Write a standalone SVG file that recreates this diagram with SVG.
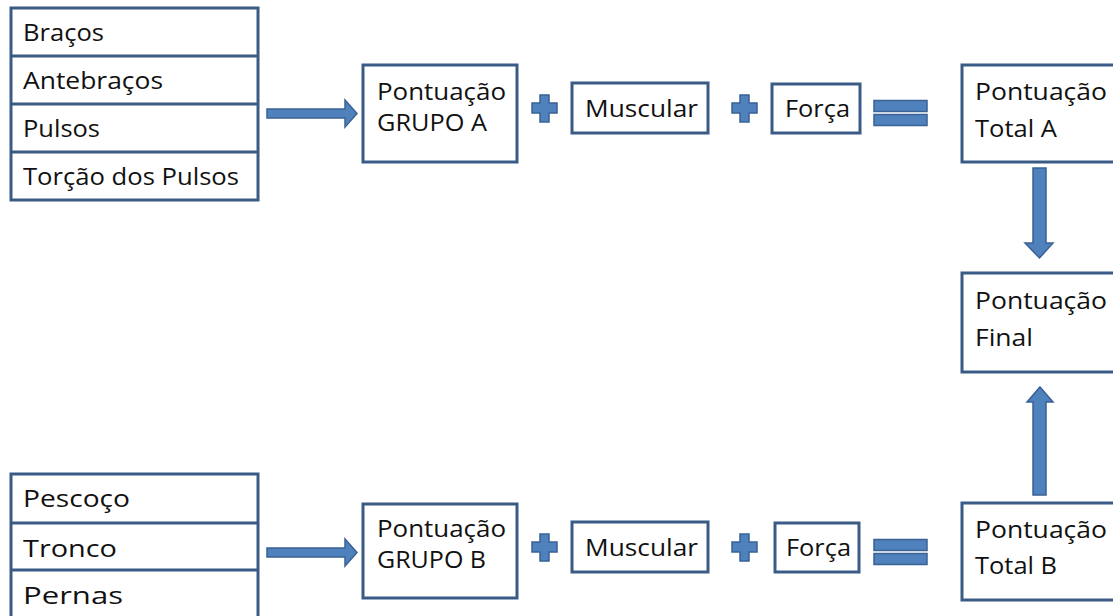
<svg xmlns="http://www.w3.org/2000/svg" width="1113" height="616" viewBox="0 0 1113 616">
<style>
.box{fill:#fff;stroke:#3a5b86;stroke-width:3}
.line{stroke:#3a5b86;stroke-width:3}
.conn{fill:#4f81bd;stroke:#3a6294;stroke-width:1.5}
text{font-family:"Open Sans","Liberation Sans",sans-serif;font-size:23.5px;fill:#111}
</style>
<rect width="1113" height="616" fill="#fff"/>
<g id="listA">
<rect class="box" x="11" y="8" width="247" height="192"/>
<line class="line" x1="11" y1="56" x2="258" y2="56"/>
<line class="line" x1="11" y1="104" x2="258" y2="104"/>
<line class="line" x1="11" y1="152" x2="258" y2="152"/>
<text x="23" y="41" textLength="81" lengthAdjust="spacingAndGlyphs">Braços</text>
<text x="23" y="89" textLength="140" lengthAdjust="spacingAndGlyphs">Antebraços</text>
<text x="23" y="137" textLength="77" lengthAdjust="spacingAndGlyphs">Pulsos</text>
<text x="23" y="185" textLength="216" lengthAdjust="spacingAndGlyphs">Torção dos Pulsos</text>
</g>
<g id="grupoA">
<rect class="box" x="363" y="65" width="154" height="97"/>
<text x="377" y="100" textLength="129" lengthAdjust="spacingAndGlyphs">Pontuação</text>
<text x="377" y="131" textLength="110" lengthAdjust="spacingAndGlyphs">GRUPO A</text>
</g>
<g id="muscularA">
<rect class="box" x="572" y="83" width="136" height="50"/>
<text x="585" y="117" textLength="113" lengthAdjust="spacingAndGlyphs">Muscular</text>
</g>
<g id="forcaA">
<rect class="box" x="772" y="84" width="88" height="49"/>
<text x="785" y="117" textLength="65" lengthAdjust="spacingAndGlyphs">Força</text>
</g>
<g id="totalA">
<rect class="box" x="962" y="65" width="170" height="97"/>
<text x="975" y="100" textLength="132" lengthAdjust="spacingAndGlyphs">Pontuação</text>
<text x="975" y="137" textLength="82" lengthAdjust="spacingAndGlyphs">Total A</text>
</g>
<g id="final">
<rect class="box" x="962" y="273" width="170" height="99"/>
<text x="975" y="309" textLength="132" lengthAdjust="spacingAndGlyphs">Pontuação</text>
<text x="975" y="346" textLength="58" lengthAdjust="spacingAndGlyphs">Final</text>
</g>
<g id="listB">
<rect class="box" x="11" y="474" width="247" height="150"/>
<line class="line" x1="11" y1="523" x2="258" y2="523"/>
<line class="line" x1="11" y1="570" x2="258" y2="570"/>
<text x="23" y="507" textLength="107" lengthAdjust="spacingAndGlyphs">Pescoço</text>
<text x="23" y="557" textLength="94" lengthAdjust="spacingAndGlyphs">Tronco</text>
<text x="23" y="604" textLength="100" lengthAdjust="spacingAndGlyphs">Pernas</text>
</g>
<g id="grupoB">
<rect class="box" x="363" y="504" width="154" height="94"/>
<text x="377" y="537" textLength="129" lengthAdjust="spacingAndGlyphs">Pontuação</text>
<text x="377" y="568" textLength="109" lengthAdjust="spacingAndGlyphs">GRUPO B</text>
</g>
<g id="muscularB">
<rect class="box" x="572" y="522" width="136" height="50"/>
<text x="585" y="556" textLength="113" lengthAdjust="spacingAndGlyphs">Muscular</text>
</g>
<g id="forcaB">
<rect class="box" x="775" y="523" width="84" height="49"/>
<text x="786" y="556" textLength="65" lengthAdjust="spacingAndGlyphs">Força</text>
</g>
<g id="totalB">
<rect class="box" x="962" y="503" width="170" height="97"/>
<text x="975" y="538" textLength="132" lengthAdjust="spacingAndGlyphs">Pontuação</text>
<text x="975" y="574" textLength="82" lengthAdjust="spacingAndGlyphs">Total B</text>
</g>
<g id="connectors">
<path class="conn" d="M267,109 H345 V100 L357,113.5 L345,127 V118 H267 Z"/>
<path class="conn" d="M267,548 H345 V539 L357,552.5 L345,566 V557 H267 Z"/>
<path class="conn" d="M540,95 H549 V103 H557 V113 H549 V122 H540 V113 H532 V103 H540 Z"/>
<path class="conn" d="M740,95 H749 V103 H757 V113 H749 V122 H740 V113 H732 V103 H740 Z"/>
<path class="conn" d="M540,534 H549 V542 H557 V552 H549 V561 H540 V552 H532 V542 H540 Z"/>
<path class="conn" d="M740,534 H749 V542 H757 V552 H749 V561 H740 V552 H732 V542 H740 Z"/>
<rect class="conn" x="874" y="100.5" width="53" height="11"/>
<rect class="conn" x="874" y="114.5" width="53" height="11"/>
<rect class="conn" x="874" y="539.5" width="53" height="11"/>
<rect class="conn" x="874" y="553.5" width="53" height="11"/>
<path class="conn" d="M1033,168 H1046 V243 H1053 L1039.5,258 L1025,243 H1033 Z"/>
<path class="conn" d="M1040,387 L1053,402 H1046 V495 H1033 V402 H1027 Z"/>
</g>
</svg>
